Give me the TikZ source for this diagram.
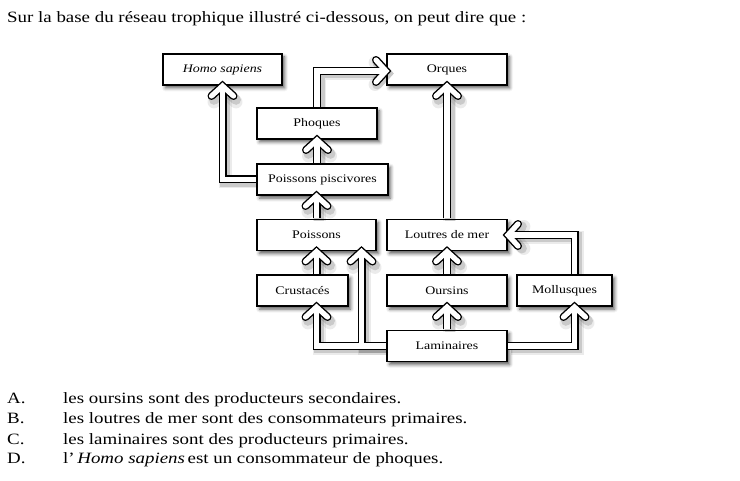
\documentclass[tikz,border=0pt]{standalone}
\usepackage{fontspec}
\setmainfont{Liberation Serif}[FakeStretch=1.2]
\usetikzlibrary{arrows.meta,shadows.blur}

\tikzset{chevron/.tip={Straight Barb[length=10pt,width=22pt,line cap=round,line join=miter]}}

\begin{document}
\begin{tikzpicture}[x=1pt,y=-1pt]
	\tikzstyle{species}  = [rectangle, draw=black, line width=1.2pt, fill=white, minimum height=31pt, inner sep=0pt, font=\fontsize{11.6}{14}\selectfont, blur shadow={shadow xshift=2.5pt, shadow yshift=-3pt, shadow blur radius=3.5pt, shadow opacity=65}]
	\tikzstyle{shadewide} = [draw=black, opacity=0.08, line width=13pt, line join=miter, shorten <=0.6pt, shorten >=-5pt, transform canvas={shift={(2.5pt,-2.5pt)}}, -chevron]
	\tikzstyle{shadethin} = [draw=black, opacity=0.14, line width=10pt, line join=miter, shorten <=0.6pt, shorten >=-5pt, transform canvas={shift={(2.5pt,-2.5pt)}}, -chevron]
	\tikzstyle{outline}  = [draw=black, line width=8pt, line join=miter, shorten <=0.6pt, shorten >=-5pt, -chevron]
	\tikzstyle{inner}    = [draw=white, line width=5.2pt, line join=miter, shorten <=0.6pt, shorten >=-3.1pt, -chevron]
	\tikzstyle{prose}    = [anchor=base west, inner sep=0pt, font=\fontsize{15.75}{18}\selectfont]

	\useasboundingbox (0,0) rectangle (740,481);

	\node[prose] (question) at (7,23) {Sur la base du réseau trophique illustré ci-dessous, on peut dire que :};

	\foreach \id/\x/\y/\w/\lbl in {hs/222.5/69.5/119/\textit{Homo sapiens}, orq/447/69.5/120/Orques,
			pho/317/123.5/120/Phoques, pp/322.5/179.5/131/Poissons piscivores,
			poi/316.5/235/119/Poissons, lou/447/235/120/Loutres de mer,
			cru/302.5/290.5/91/Crustacés, our/447/290.5/120/Oursins, mol/564.5/290.5/95/Mollusques,
			lam/447/346/120/Laminaires}
		\node[species, minimum width=\w pt] (\id) at (\x, \y) {\lbl};

	% arrows: shadow first, then black rim, then white core
	\foreach \s in {shadewide, shadethin, outline, inner} {
		\draw[\s] (pp.west) -| (hs.south);
		\draw[\s] (pho.north) |- ([yshift=-1.5pt]orq.west);
		\draw[\s] (pho.south |- pp.north) -- (pho.south);
		\draw[\s] (poi.north) -- (poi.north |- pp.south);
		\draw[\s] (lou.north) -- (orq.south);
		\draw[\s] (poi.south |- cru.north) -- (poi.south);
		\draw[\s] (lam.west) -| ([xshift=14pt]cru.south);
		\draw[\s] (lam.west) -| ([xshift=45pt]poi.south);
		\draw[\s] (our.north) -- (lou.south);
		\draw[\s] (lam.north) -- (our.south);
		\draw[\s] (lam.east) -| ([xshift=10pt]mol.south);
		\draw[\s] ([xshift=10pt]mol.north) |- (lou.east);
	}

	\foreach \opt/\y/\txt in {A/404/les oursins sont des producteurs secondaires.,
			B/424/les loutres de mer sont des consommateurs primaires.,
			C/444/les laminaires sont des producteurs primaires.,
			D/464/l’\,\textit{Homo sapiens}\,est un consommateur de phoques.}
	{
		\node[prose] (opt\opt) at (7,\y) {\opt.};
		\node[prose] (ans\opt) at (63,\y) {\txt};
	}
\end{tikzpicture}
\end{document}
